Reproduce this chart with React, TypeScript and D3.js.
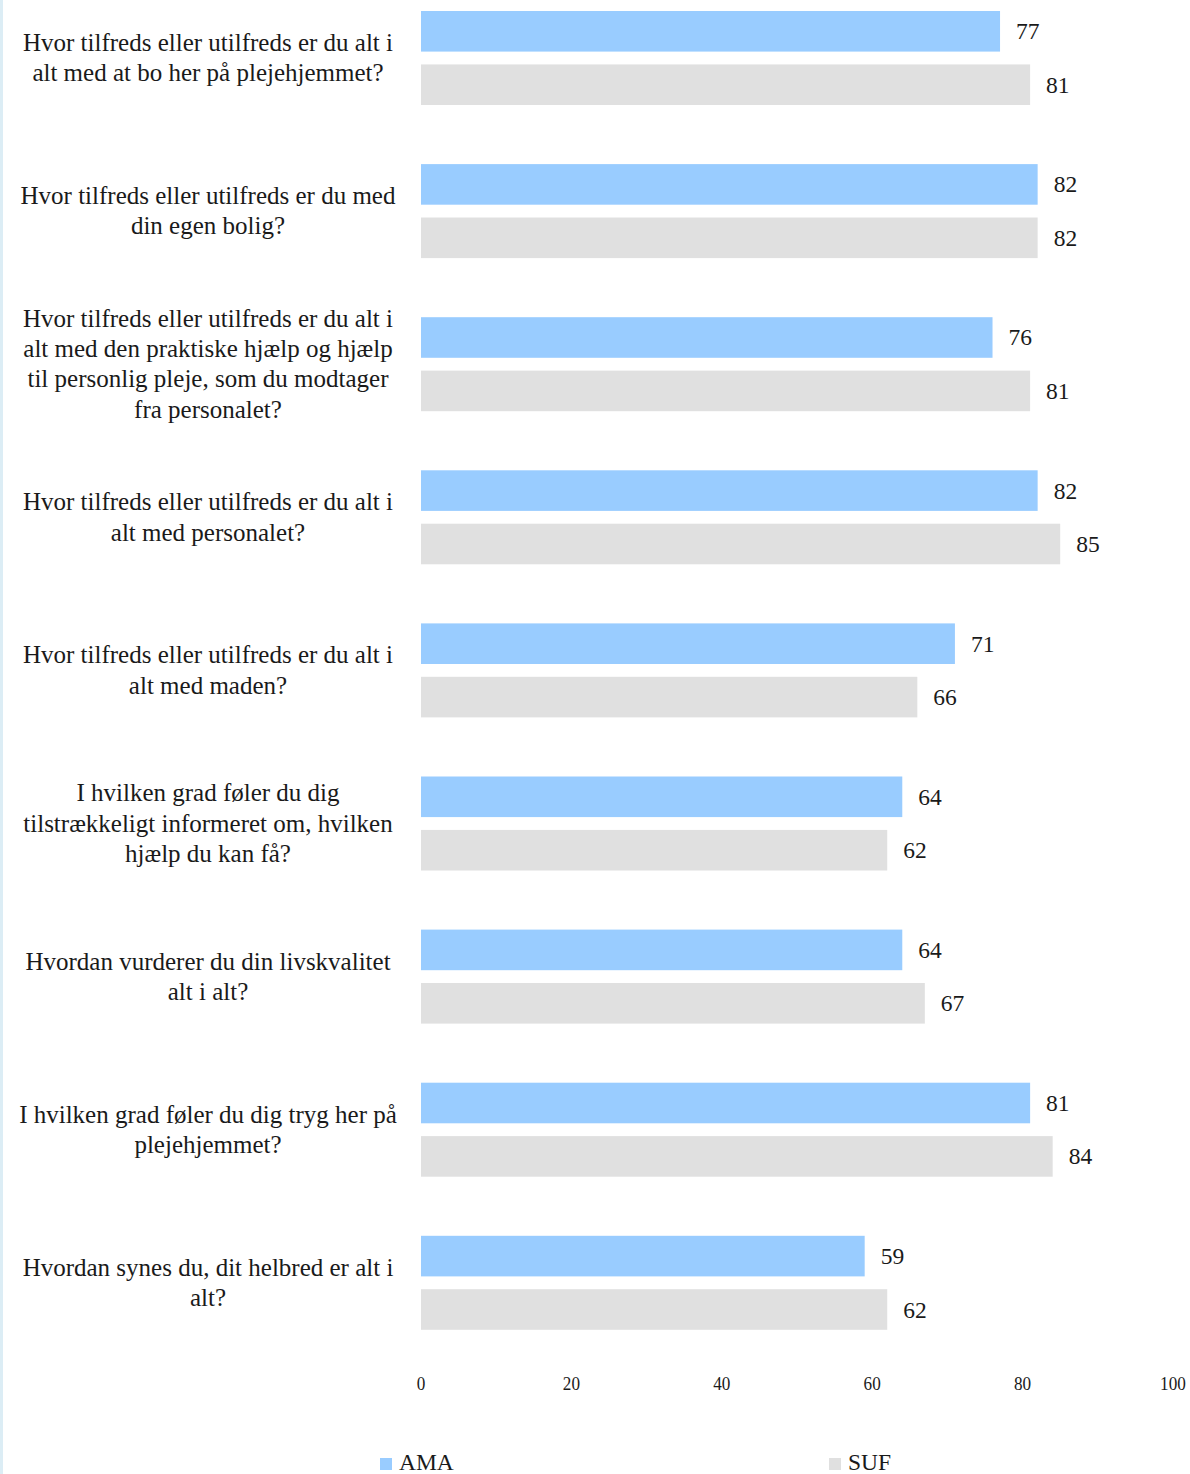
import React from "react";
import * as d3 from "d3";

const categories: string[][] = [
  ["Hvor tilfreds eller utilfreds er du alt i", "alt med at bo her på plejehjemmet?"],
  ["Hvor tilfreds eller utilfreds er du med", "din egen bolig?"],
  ["Hvor tilfreds eller utilfreds er du alt i", "alt med den praktiske hjælp og hjælp", "til personlig pleje, som du modtager", "fra personalet?"],
  ["Hvor tilfreds eller utilfreds er du alt i", "alt med personalet?"],
  ["Hvor tilfreds eller utilfreds er du alt i", "alt med maden?"],
  ["I hvilken grad føler du dig", "tilstrækkeligt informeret om, hvilken", "hjælp du kan få?"],
  ["Hvordan vurderer du din livskvalitet", "alt i alt?"],
  ["I hvilken grad føler du dig tryg her på", "plejehjemmet?"],
  ["Hvordan synes du, dit helbred er alt i", "alt?"],
];
const amaValues = [77, 82, 76, 82, 71, 64, 64, 81, 59];
const sufValues = [81, 82, 81, 85, 66, 62, 67, 84, 62];
const xTicks = [0, 20, 40, 60, 80, 100];
const seriesNames = ["AMA", "SUF"];

const W = 1190;
const H = 1474;
const FONT = "'Liberation Serif', 'DejaVu Serif', serif";
const BLUE = "#99ccff";
const GREY = "#e0e0e0";
const TEXT = "#1a1a1a";

export default function App() {
  const x = d3.scaleLinear().domain([0, 100]).range([421, 1173]);
  const y = d3
    .scaleBand<number>()
    .domain(d3.range(categories.length))
    .range([-19, -19 + 153.1 * categories.length])
    .paddingInner(0)
    .paddingOuter(0);
  const sub = d3.scaleBand<number>().domain([0, 1]).range([30, 124]).paddingInner(0.24);
  const series = [amaValues, sufValues];
  const colors = [BLUE, GREY];

  return (
    <svg
      width={W}
      height={H}
      style={{ position: "absolute", left: 0, top: 0, display: "block", background: "#fff" }}
      fontFamily={FONT}
    >
      <rect x={0} y={0} width={3} height={H} fill="#dcedf5" />
      {categories.map((lines, i) => {
        const y0 = y(i)!;
        const cy = y0 + y.bandwidth() / 2;
        const lh = 30.3;
        return (
          <g key={i}>
            {lines.map((ln, j) => (
              <text
                key={j}
                x={208}
                y={cy + (j - (lines.length - 1) / 2) * lh}
                textAnchor="middle"
                dominantBaseline="central"
                fontSize={25}
                fill={TEXT}
              >
                {ln}
              </text>
            ))}
            {series.map((vals, s) => {
              const by = y0 + sub(s)!;
              const bh = sub.bandwidth();
              return (
                <g key={s}>
                  <rect x={x(0)} y={by} width={x(vals[i]) - x(0)} height={bh} fill={colors[s]} />
                  <text
                    x={x(vals[i]) + 16}
                    y={by + bh / 2}
                    dominantBaseline="central"
                    fontSize={23.5}
                    fill={TEXT}
                  >
                    {vals[i]}
                  </text>
                </g>
              );
            })}
          </g>
        );
      })}
      {xTicks.map((t) => (
        <text
          key={t}
          x={x(t)}
          y={1384}
          textAnchor="middle"
          dominantBaseline="central"
          fontSize={19.5}
          fill={TEXT}
          transform={`translate(${x(t)},0) scale(0.88,1) translate(${-x(t)},0)`}
        >
          {t}
        </text>
      ))}
      {seriesNames.map((n, s) => {
        const lx = s === 0 ? 380 : 829;
        return (
          <g key={n}>
            <rect x={lx} y={1458} width={12} height={12} fill={colors[s]} />
            <text x={lx + 19} y={1462} dominantBaseline="central" fontSize={23.5} fill={TEXT}>
              {n}
            </text>
          </g>
        );
      })}
    </svg>
  );
}
